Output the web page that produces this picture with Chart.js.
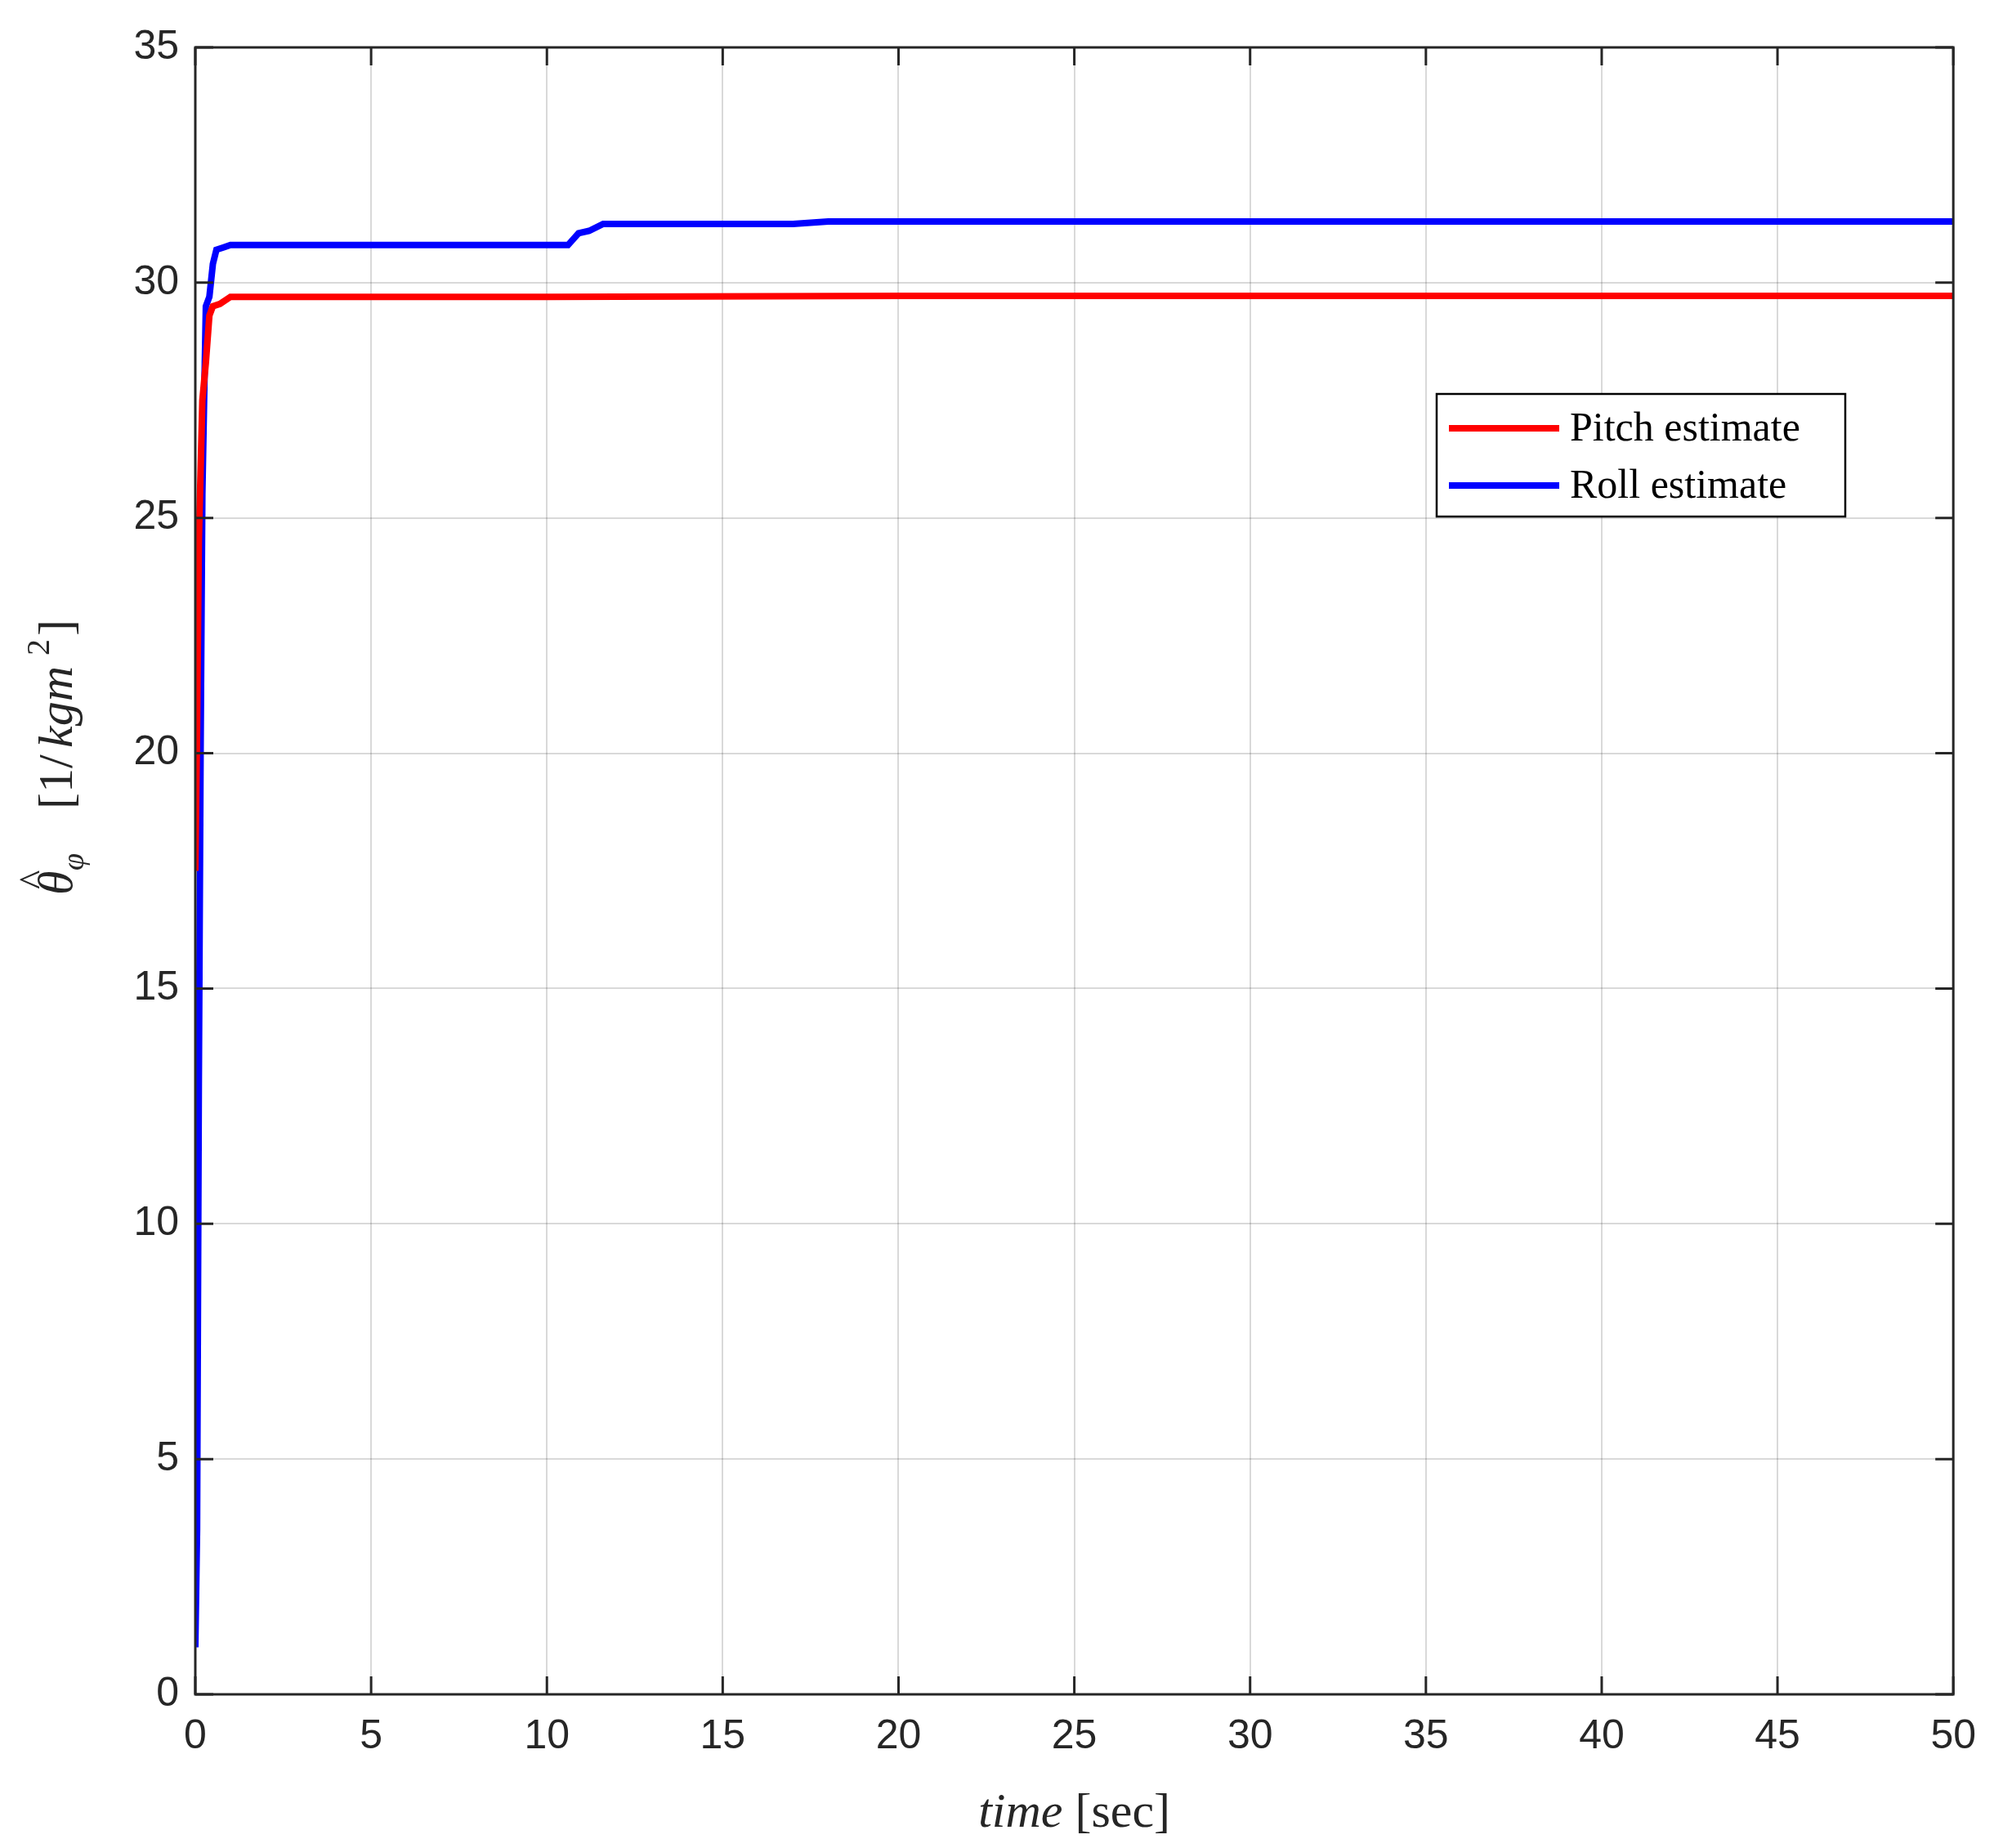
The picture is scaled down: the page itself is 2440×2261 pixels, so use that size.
<!DOCTYPE html>
<html><head><meta charset="utf-8">
<script src="https://cdn.jsdelivr.net/npm/chart.js@4"></script>
<style>html,body{margin:0;padding:0;background:#fff}#w{width:2440px;height:2261px}</style>
</head><body><div id="w"><canvas id="c"></canvas></div>
<script>
const pitchT = [0, 0.05, 0.1, 0.2, 0.3, 0.4, 0.5, 0.7, 1.0, 5, 10, 20, 30, 40, 50];
const pitchV = [17.5, 20.5, 24.5, 27.5, 28.3, 29.3, 29.5, 29.55, 29.7, 29.7, 29.7, 29.72, 29.72, 29.72, 29.72];
const rollT = [0, 0.05, 0.1, 0.15, 0.2, 0.3, 0.4, 0.5, 0.6, 0.8, 1.0, 5, 10.6, 10.9, 11.2, 11.6, 17, 18, 30, 50];
const rollV = [1.0, 3.5, 13, 20, 25.5, 29.5, 29.7, 30.4, 30.7, 30.75, 30.8, 30.8, 30.8, 31.05, 31.1, 31.25, 31.25, 31.3, 31.3, 31.3];
const seriesNames = ['Pitch estimate', 'Roll estimate'];
const xTicks = [0,5,10,15,20,25,30,35,40,45,50];
const yTicks = [0,5,10,15,20,25,30,35];

const toPts = (t, v) => t.map((x, i) => ({x, y: v[i]}));
const tickFont = {family: 'Liberation Sans, Arial', size: 50};
const dark = '#262626';

const deco = {
  id: 'deco',
  afterDraw(ch) {
    const c = ch.ctx, a = ch.chartArea;
    c.save();
    c.strokeStyle = dark; c.lineWidth = 3;
    c.strokeRect(a.left, a.top, a.right - a.left, a.bottom - a.top);
    const xs = ch.scales.x, ys = ch.scales.y, L = 22;
    c.beginPath();
    xTicks.forEach(v => { const p = xs.getPixelForValue(v);
      c.moveTo(p, a.bottom); c.lineTo(p, a.bottom - L); c.moveTo(p, a.top); c.lineTo(p, a.top + L); });
    yTicks.forEach(v => { const p = ys.getPixelForValue(v);
      c.moveTo(a.left, p); c.lineTo(a.left + L, p); c.moveTo(a.right, p); c.lineTo(a.right - L, p); });
    c.stroke();
    // x title
    c.fillStyle = dark; c.textBaseline = 'alphabetic';
    c.font = 'italic 60px "Liberation Serif", serif';
    const t1 = 'time ', t2 = '[sec]';
    const w1 = c.measureText(t1).width;
    c.font = '60px "Liberation Serif", serif';
    const w2 = c.measureText(t2).width;
    let x0 = (a.left + a.right) / 2 - (w1 + w2) / 2;
    c.font = 'italic 60px "Liberation Serif", serif'; c.fillText(t1, x0, 2235);
    c.font = '60px "Liberation Serif", serif'; c.fillText(t2, x0 + w1, 2235);
    // y title
    c.translate(88, 920); c.rotate(-Math.PI / 2);
    c.font = 'italic 60px "Liberation Serif", serif';
    c.fillText('θ', -175, 0);
    c.font = '50px "Liberation Serif", serif';
    c.fillText('^', -168, -30);
    c.font = 'italic 38px "Liberation Serif", serif';
    c.fillText('φ', -145, 14);
    c.font = '60px "Liberation Serif", serif';
    c.fillText('[1/', -70, 0);
    c.font = 'italic 60px "Liberation Serif", serif';
    c.fillText('kgm', 5, 0);
    c.font = '40px "Liberation Serif", serif';
    c.fillText('2', 118, -28);
    c.font = '60px "Liberation Serif", serif';
    c.fillText(']', 142, 0);
    c.restore();
    // legend
    c.save();
    const lx = 1758, ly = 482, lw = 500, lh = 150;
    c.fillStyle = '#fff'; c.fillRect(lx, ly, lw, lh);
    c.strokeStyle = '#000'; c.lineWidth = 2.5; c.strokeRect(lx, ly, lw, lh);
    const cols = ch.data.datasets.map(d => d.borderColor);
    c.font = '50px "Liberation Serif", serif'; c.textBaseline = 'middle'; c.fillStyle = '#000';
    seriesNames.forEach((n, i) => {
      const yy = ly + 42 + i * 70;
      c.strokeStyle = cols[i]; c.lineWidth = 8;
      c.beginPath(); c.moveTo(lx + 15, yy); c.lineTo(lx + 150, yy); c.stroke();
      c.fillText(n, lx + 163, yy + 2);
    });
    c.restore();
  }
};

new Chart(document.getElementById('c'), {
  type: 'line',
  data: { datasets: [
    { label: seriesNames[0], data: toPts(pitchT, pitchV), borderColor: '#ff0000', borderWidth: 8, pointRadius: 0, tension: 0 },
    { label: seriesNames[1], data: toPts(rollT, rollV), borderColor: '#0000ff', borderWidth: 8, pointRadius: 0, tension: 0 }
  ]},
  options: {
    responsive: true, maintainAspectRatio: false, animation: false,
    layout: { padding: { top: 58, right: 47, left: 0, bottom: 0 } },
    plugins: { legend: { display: false }, tooltip: { enabled: false } },
    scales: {
      x: { type: 'linear', min: 0, max: 50,
        afterBuildTicks: s => { s.ticks = xTicks.map(v => ({value: v})); },
        afterFit: s => { s.height = 188; },
        grid: { color: 'rgba(0,0,0,0.15)', lineWidth: 2, drawTicks: false },
        border: { display: false },
        ticks: { font: tickFont, color: dark, padding: 22, maxRotation: 0 } },
      y: { min: 0, max: 35,
        afterBuildTicks: s => { s.ticks = yTicks.map(v => ({value: v})); },
        afterFit: s => { s.width = 239; },
        grid: { color: 'rgba(0,0,0,0.15)', lineWidth: 2, drawTicks: false },
        border: { display: false },
        ticks: { font: tickFont, color: dark, padding: 20 } }
    }
  },
  plugins: [deco]
});
</script></body></html>
